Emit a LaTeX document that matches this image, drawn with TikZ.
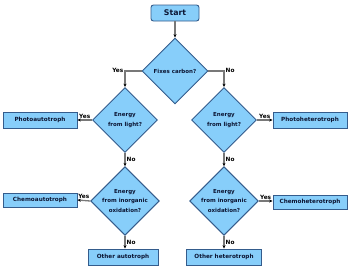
\documentclass[tikz,border=0pt]{standalone}
\usepackage{fontspec}
\setmainfont{DejaVu Sans}
\usetikzlibrary{shapes.geometric,arrows.meta}
\definecolor{boxfill}{RGB}{135,206,250}
\definecolor{boxedge}{RGB}{52,92,140}
\definecolor{boxtext}{RGB}{12,22,52}
\definecolor{linegray}{RGB}{120,120,120}
\tikzset{
    % rectangular end boxes
    endbox/.style={
        draw=boxedge,
        fill=boxfill,
        line width=0.9pt,
        text=boxtext,
        font=\fontsize{5.7}{6}\selectfont\bfseries,
        minimum height=16pt,
        inner sep=0pt
    },
    % question diamonds
    askbox/.style={
        diamond,
        aspect=1,
        draw=boxedge,
        fill=boxfill,
        line width=0.9pt,
        text=boxtext,
        align=center,
        inner sep=0pt,
        minimum size=65pt,
        font=\fontsize{5.5}{9.5}\selectfont\bfseries
    },
    flowarrow/.style={
        line width=1.3pt,
        linegray,
        -{Stealth[length=3.4pt, width=3pt, color=black]}
    },
    answer/.style={
        font=\fontsize{5.8}{6}\selectfont\bfseries,
        text=black,
        inner sep=1pt
    }
}
\begin{document}
\begin{tikzpicture}[x=1pt,y=-1pt]
\useasboundingbox (0,0) rectangle (350,273);

% ===================== start and first question =====================
\node[endbox, rounded corners=2.5pt, minimum width=48pt,
      font=\fontsize{7.8}{8}\selectfont\bfseries] (start) at (175,13) {Start};
\node[askbox, minimum size=66pt] (fix) at (175,71) {Fixes carbon?};

% ===================== autotroph side =====================
\node[askbox] (lightA) at (125,120) {Energy\\from light?};
\node[askbox] (inorgA) at (125,201) {Energy\\from inorganic\\oxidation?};
\node[endbox, minimum width=74pt] (photoA) at (40,120) {Photoautotroph};
\node[endbox, minimum width=74pt, minimum height=14pt] (chemoA) at (40,200) {Chemoautotroph};
\node[endbox, minimum width=70pt] (otherA) at (123,257) {Other autotroph};

% ===================== heterotroph side =====================
\node[askbox] (lightH) at (224,120) {Energy\\from light?};
\node[askbox] (inorgH) at (224,201) {Energy\\from inorganic\\oxidation?};
\node[endbox, minimum width=74pt] (photoH) at (310,120) {Photoheterotroph};
\node[endbox, minimum width=74pt, minimum height=14pt] (chemoH) at (310,202) {Chemoheterotroph};
\node[endbox, minimum width=75pt] (otherH) at (224,257) {Other heterotroph};

% connectors
\draw[flowarrow] (start) -- (fix);
\draw[flowarrow] (fix.west) -| node[answer, pos=0.6, above left] {Yes} (lightA.north);
\draw[flowarrow] (fix.east) -| node[answer, pos=0.6, above right] {No} (lightH.north);

\draw[flowarrow] (lightA.west) -- node[answer, above] {Yes} (photoA.east);
\draw[flowarrow] (lightA.south) -- node[answer, right] {No} (inorgA.north);
\draw[flowarrow] (inorgA.west) -- node[answer, above] {Yes} (chemoA.east);
\draw[flowarrow] (inorgA.south) -- node[answer, right] {No} (inorgA.south |- otherA.north);

\draw[flowarrow] (lightH.east) -- node[answer, above] {Yes} (photoH.west);
\draw[flowarrow] (lightH.south) -- node[answer, right] {No} (inorgH.north);
\draw[flowarrow] (inorgH.east) -- node[answer, above] {Yes} (chemoH.west |- inorgH.east);
\draw[flowarrow] (inorgH.south) -- node[answer, right] {No} (otherH.north);
\end{tikzpicture}
\end{document}
